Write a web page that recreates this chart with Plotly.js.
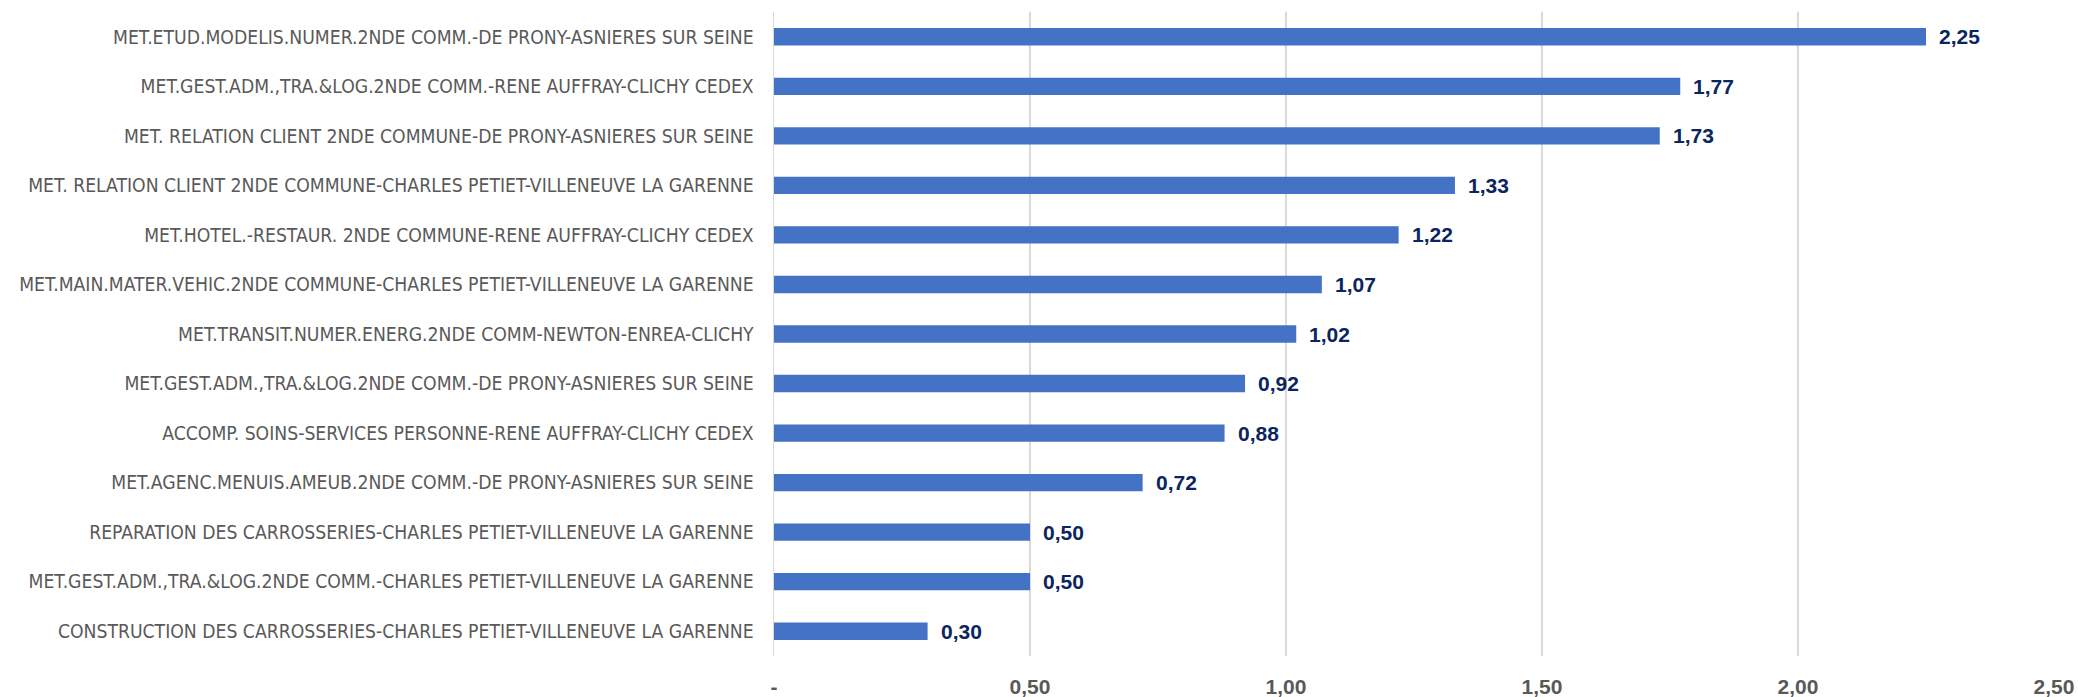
<!DOCTYPE html>
<html>
<head>
<meta charset="utf-8">
<script src="https://cdn.plot.ly/plotly-3.0.1.min.js"></script>
<style>html,body{margin:0;padding:0;background:#fff;}#chart{width:2078px;height:697px;}</style>
</head>
<body>
<div id="chart"></div>
<script>
const categories = [
  "MET.ETUD.MODELIS.NUMER.2NDE COMM.-DE PRONY-ASNIERES SUR SEINE",
  "MET.GEST.ADM.,TRA.&LOG.2NDE COMM.-RENE AUFFRAY-CLICHY CEDEX",
  "MET. RELATION CLIENT 2NDE COMMUNE-DE PRONY-ASNIERES SUR SEINE",
  "MET. RELATION CLIENT 2NDE COMMUNE-CHARLES PETIET-VILLENEUVE LA GARENNE",
  "MET.HOTEL.-RESTAUR. 2NDE COMMUNE-RENE AUFFRAY-CLICHY CEDEX",
  "MET.MAIN.MATER.VEHIC.2NDE COMMUNE-CHARLES PETIET-VILLENEUVE LA GARENNE",
  "MET.TRANSIT.NUMER.ENERG.2NDE COMM-NEWTON-ENREA-CLICHY",
  "MET.GEST.ADM.,TRA.&LOG.2NDE COMM.-DE PRONY-ASNIERES SUR SEINE",
  "ACCOMP. SOINS-SERVICES PERSONNE-RENE AUFFRAY-CLICHY CEDEX",
  "MET.AGENC.MENUIS.AMEUB.2NDE COMM.-DE PRONY-ASNIERES SUR SEINE",
  "REPARATION DES CARROSSERIES-CHARLES PETIET-VILLENEUVE LA GARENNE",
  "MET.GEST.ADM.,TRA.&LOG.2NDE COMM.-CHARLES PETIET-VILLENEUVE LA GARENNE",
  "CONSTRUCTION DES CARROSSERIES-CHARLES PETIET-VILLENEUVE LA GARENNE"
];
const values = [2.25, 1.77, 1.73, 1.33, 1.22, 1.07, 1.02, 0.92, 0.88, 0.72, 0.50, 0.50, 0.30];
const tickValues = [0, 0.5, 1.0, 1.5, 2.0, 2.5];
const tickLabels = ["-", "0,50", "1,00", "1,50", "2,00", "2,50"];

const fmt = v => v.toFixed(2).replace('.', ',');

const trace = {
  type: 'bar',
  orientation: 'h',
  x: values,
  y: categories,
  marker: {color: '#4472C4'},
  hoverinfo: 'none'
};

const annotations = values.map((v, i) => ({
  x: v, y: categories[i], xref: 'x', yref: 'y',
  text: '<b>' + fmt(v) + '</b>', showarrow: false, xanchor: 'left', xshift: 11,
  font: {family: 'Liberation Sans, Arial, sans-serif', size: 21, color: '#0B2560'}
}));

const layout = {
  width: 2078, height: 697,
  margin: {l: 774, r: 24, t: 12, b: 40.5},
  paper_bgcolor: '#fff', plot_bgcolor: '#fff',
  bargap: 0.65,
  showlegend: false,
  font: {family: 'Liberation Sans, Arial, sans-serif'},
  xaxis: {
    range: [0, 2.5], tickvals: tickValues, ticktext: tickLabels,
    showgrid: true, gridcolor: '#D9D9D9', gridwidth: 1.5,
    zeroline: false, showline: false, ticks: '',
    tickfont: {family: 'Liberation Sans, Arial, sans-serif', size: 21, color: '#595959', weight: 'bold'},
    ticklabelstandoff: 16,
    fixedrange: true
  },
  yaxis: {
    type: 'category', autorange: 'reversed',
    showgrid: false, zeroline: false, showline: true, linecolor: '#D9D9D9', linewidth: 1.5,
    ticks: '', ticklabelstandoff: 15,
    tickfont: {family: '"Liberation Sans Narrow", "DejaVu Sans Condensed", sans-serif', size: 19.2, color: '#595959'},
    fixedrange: true
  },
  annotations: annotations
};

Plotly.newPlot('chart', [trace], layout, {displayModeBar: false, staticPlot: true});
</script>
</body>
</html>
